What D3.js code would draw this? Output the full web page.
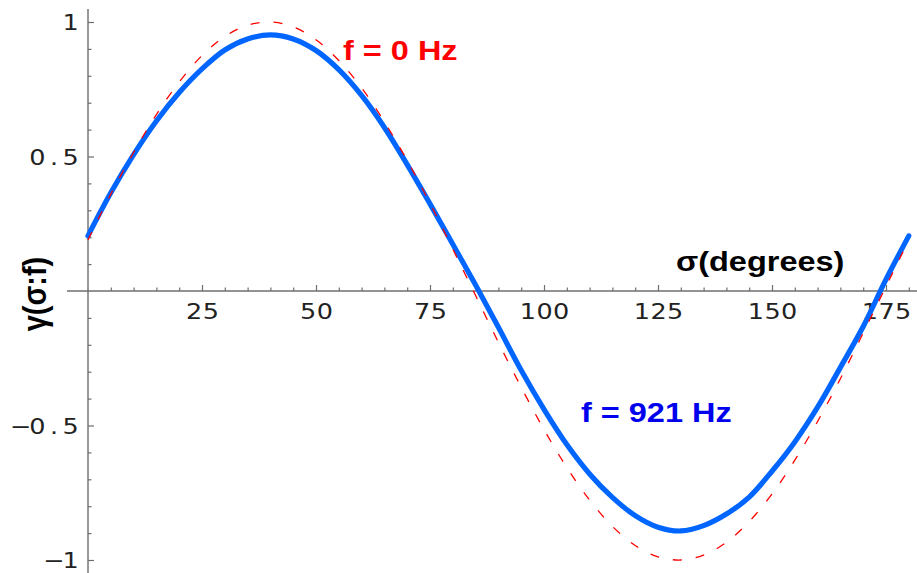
<!DOCTYPE html>
<html>
<head>
<meta charset="utf-8">
<script src="https://cdn.jsdelivr.net/npm/d3@7/dist/d3.min.js"></script>
<style>
  html, body { margin: 0; padding: 0; background: #fff; }
  svg { display: block; }
</style>
</head>
<body>
<svg id="chart" width="917" height="573"></svg>
<script>
// Scattering angle sigma, in degrees
const sigma = [0, 5, 10, 15, 20, 25, 30, 35, 40, 45, 50, 55, 60, 65, 70, 75, 80, 85, 90,
               95, 100, 105, 110, 115, 120, 125, 130, 135, 140, 145, 150, 155, 160, 165, 170, 175, 180];

// gamma(sigma : f) at f = 0 Hz
const gammaStatic = [0.19, 0.36, 0.515, 0.656, 0.777, 0.875, 0.946, 0.988, 1.0, 0.982, 0.934,
                     0.857, 0.755, 0.629, 0.485, 0.326, 0.156, -0.017, -0.191, -0.358, -0.515,
                     -0.656, -0.777, -0.875, -0.946, -0.988, -1.0, -0.982, -0.934, -0.857, -0.755,
                     -0.629, -0.485, -0.326, -0.156, 0.017, 0.19];

// gamma(sigma : f) at f = 921 Hz
const gamma921 = [0.205, 0.365, 0.507, 0.632, 0.738, 0.826, 0.896, 0.937, 0.952, 0.937, 0.894,
                  0.823, 0.727, 0.608, 0.47, 0.324, 0.174, 0.022, -0.135, -0.295, -0.44,
                  -0.571, -0.68, -0.767, -0.835, -0.878, -0.892, -0.872, -0.829, -0.766, -0.67,
                  -0.561, -0.432, -0.284, -0.132, 0.043, 0.205];

const xMajorTicks = [25, 50, 75, 100, 125, 150, 175];
const xMinorTicks = d3.range(5, 181, 5).filter(v => v % 25 !== 0);
const yMajorTicks = [-1, -0.5, 0.5, 1];
const yMinorTicks = d3.range(-10, 11).map(v => v / 10).filter(v => Math.abs(v * 2 - Math.round(v * 2)) > 1e-9);

const svg = d3.select("#chart");

const x = d3.scaleLinear().domain([0, 180]).range([88, 88 + 180 * 4.56]);
const y = d3.scaleLinear().domain([-1, 1]).range([560, 22]);

const axisColor = "#6e6e6e";
const tickFont = "'DejaVu Sans', Verdana, sans-serif";
const boldFont = "'Liberation Sans', Arial, Helvetica, sans-serif";
const stretch = 1.16;
const cell = 16.7;   // fixed character cell of the tick labels

// Lay out a tick label on a fixed-width character grid.
// align: "middle" centres the whole string on 0, "end" ends it at 0.
function gridLabel(sel, align) {
  sel.each(function () {
    const t = d3.select(this);
    const s = t.text();
    const n = s.length;
    const xs = Array.from(s, (_, i) => {
      const c = align === "middle" ? (i - (n - 1) / 2) * cell : -(n - 1 - i) * cell - cell / 2;
      return c / stretch;
    });
    t.attr("text-anchor", "middle").attr("x", xs.join(" "));
  });
}

// Axis lines crossing at the origin
svg.append("line")
  .attr("x1", 67).attr("x2", 917)
  .attr("y1", y(0)).attr("y2", y(0))
  .attr("stroke", axisColor).attr("stroke-width", 1.4);
svg.append("line")
  .attr("x1", x(0)).attr("x2", x(0))
  .attr("y1", 9).attr("y2", 573)
  .attr("stroke", axisColor).attr("stroke-width", 1.4);

// Horizontal axis: ticks point upward
const gx = svg.append("g").attr("transform", `translate(0,${y(0)})`);
gx.append("g").call(d3.axisBottom(x).tickValues(xMinorTicks).tickSizeInner(-3.5).tickSizeOuter(0).tickFormat(""))
  .call(g => g.select(".domain").remove());
gx.append("g").call(d3.axisBottom(x).tickValues(xMajorTicks).tickSizeInner(-6).tickSizeOuter(0).tickFormat(d3.format("d")))
  .call(g => g.select(".domain").remove());
gx.selectAll(".tick line").attr("stroke", axisColor).attr("stroke-width", 1.2);
gx.selectAll(".tick text")
  .attr("y", 12).attr("dy", "0.71em")
  .attr("transform", `scale(${stretch},1)`)
  .attr("font-family", tickFont).attr("font-size", 22)
  .attr("fill", "#222")
  .call(gridLabel, "middle");

// Vertical axis: ticks point right
const gy = svg.append("g").attr("transform", `translate(${x(0)},0)`);
gy.append("g").call(d3.axisLeft(y).tickValues(yMinorTicks).tickSizeInner(-3.5).tickSizeOuter(0).tickFormat(""))
  .call(g => g.select(".domain").remove());
gy.append("g").call(d3.axisLeft(y).tickValues(yMajorTicks).tickSizeInner(-6).tickSizeOuter(0).tickFormat(d3.format("")))
  .call(g => g.select(".domain").remove());
gy.selectAll(".tick line").attr("stroke", axisColor).attr("stroke-width", 1.2);
gy.selectAll(".tick text")
  .attr("dy", "0.36em")
  .attr("transform", `translate(-9,0) scale(${stretch},1)`)
  .attr("font-family", tickFont).attr("font-size", 22)
  .attr("fill", "#222")
  .call(gridLabel, "end");

// Axis titles
svg.append("text")
  .attr("transform", `translate(676,271) scale(${stretch},1)`)
  .attr("font-family", boldFont).attr("font-weight", "bold").attr("font-size", 28)
  .attr("fill", "#000")
  .text("σ(degrees)");

svg.append("text")
  .attr("transform", `translate(46,294) scale(${stretch},1) rotate(-90)`)
  .attr("text-anchor", "middle")
  .attr("font-family", boldFont).attr("font-weight", "bold").attr("font-size", 29)
  .attr("fill", "#000")
  .text("γ(σ:f)");

// Curve labels
svg.append("text")
  .attr("transform", `translate(343,60) scale(${stretch},1)`)
  .attr("font-family", boldFont).attr("font-weight", "bold").attr("font-size", 28)
  .attr("fill", "#ff0000")
  .text("f = 0 Hz");

svg.append("text")
  .attr("transform", `translate(581,422) scale(${stretch},1)`)
  .attr("font-family", boldFont).attr("font-weight", "bold").attr("font-size", 28)
  .attr("fill", "#0000ee")
  .text("f = 921 Hz");

// Curves
const line = d3.line()
  .x(d => x(d[0]))
  .y(d => y(d[1]))
  .curve(d3.curveCatmullRom.alpha(0.5));

svg.append("path")
  .datum(d3.zip(sigma, gamma921))
  .attr("d", line)
  .attr("fill", "none")
  .attr("stroke", "#0066ff")
  .attr("stroke-width", 5.2)
  .attr("stroke-linejoin", "round")
  .attr("stroke-linecap", "round");

svg.append("path")
  .datum(d3.zip(sigma, gammaStatic))
  .attr("d", line)
  .attr("fill", "none")
  .attr("stroke", "#ff0000")
  .attr("stroke-width", 1.3)
  .attr("stroke-dasharray", "9,14");
</script>
</body>
</html>
